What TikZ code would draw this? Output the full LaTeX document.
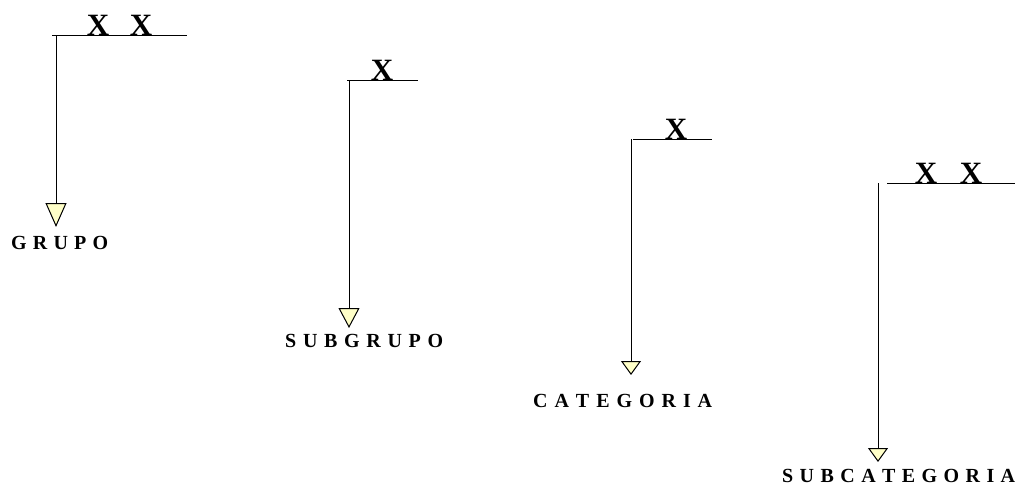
\documentclass[tikz,border=0pt]{standalone}
\usepackage{fontspec}
\setmainfont{Liberation Serif}
\usetikzlibrary{arrows.meta}
\definecolor{tri}{RGB}{255,255,200}
\begin{document}
\begin{tikzpicture}[x=1pt,y=-1pt,
  bar/.style={line width=1pt},
  stem/.style={line width=1pt},
  mark x/.style={anchor=base,inner sep=0pt,font=\fontsize{31}{31}\selectfont\bfseries},
  lbl/.style={anchor=base west,inner sep=0pt,font=\fontsize{20}{20}\selectfont\bfseries},
  big tip/.style={-{Triangle[width=21pt,length=24pt,fill=tri]}},
  mid tip/.style={-{Triangle[width=21pt,length=20pt,fill=tri]}},
  small tip/.style={-{Triangle[width=20pt,length=14pt,fill=tri]}}]
\useasboundingbox (0,0) rectangle (1015,487);
% group 1
\draw[bar] (52,36) -- (187,36);
\node[mark x] (x1a) at (98,36) {X};
\node[mark x] (x1b) at (141,36) {X};
\coordinate (s1) at (56,36);
\coordinate (t1) at (56,227);
\draw[stem,big tip] (s1) -- (t1);
\node[lbl] (grupo) at (11,249) {\makebox[97pt][s]{G\hfill R\hfill U\hfill P\hfill O}};
% group 2
\draw[bar] (347,81) -- (418,81);
\node[mark x] (x2) at (382,81) {X};
\coordinate (s2) at (349,81);
\coordinate (t2) at (349,328);
\draw[stem,mid tip] (s2) -- (t2);
\node[lbl] (subgrupo) at (285,347) {\makebox[158pt][s]{S\hfill U\hfill B\hfill G\hfill R\hfill U\hfill P\hfill O}};
% group 3
\draw[bar] (633,139) -- (712,139);
\node[mark x] (x3) at (676,139) {X};
\coordinate (s3) at (631,139);
\coordinate (t3) at (631,375);
\draw[stem,small tip] (s3) -- (t3);
\node[lbl] (categoria) at (533,407) {\makebox[179pt][s]{C\hfill A\hfill T\hfill E\hfill G\hfill O\hfill R\hfill I\hfill A}};
% group 4
\draw[bar] (887,183) -- (1015,183);
\node[mark x] (x4a) at (926,183) {X};
\node[mark x] (x4b) at (971,183) {X};
\coordinate (s4) at (878,183);
\coordinate (t4) at (878,462);
\draw[stem,small tip] (s4) -- (t4);
\node[lbl] (subcategoria) at (782,482) {\makebox[233pt][s]{S\hfill U\hfill B\hfill C\hfill A\hfill T\hfill E\hfill G\hfill O\hfill R\hfill I\hfill A}};
\end{tikzpicture}
\end{document}
